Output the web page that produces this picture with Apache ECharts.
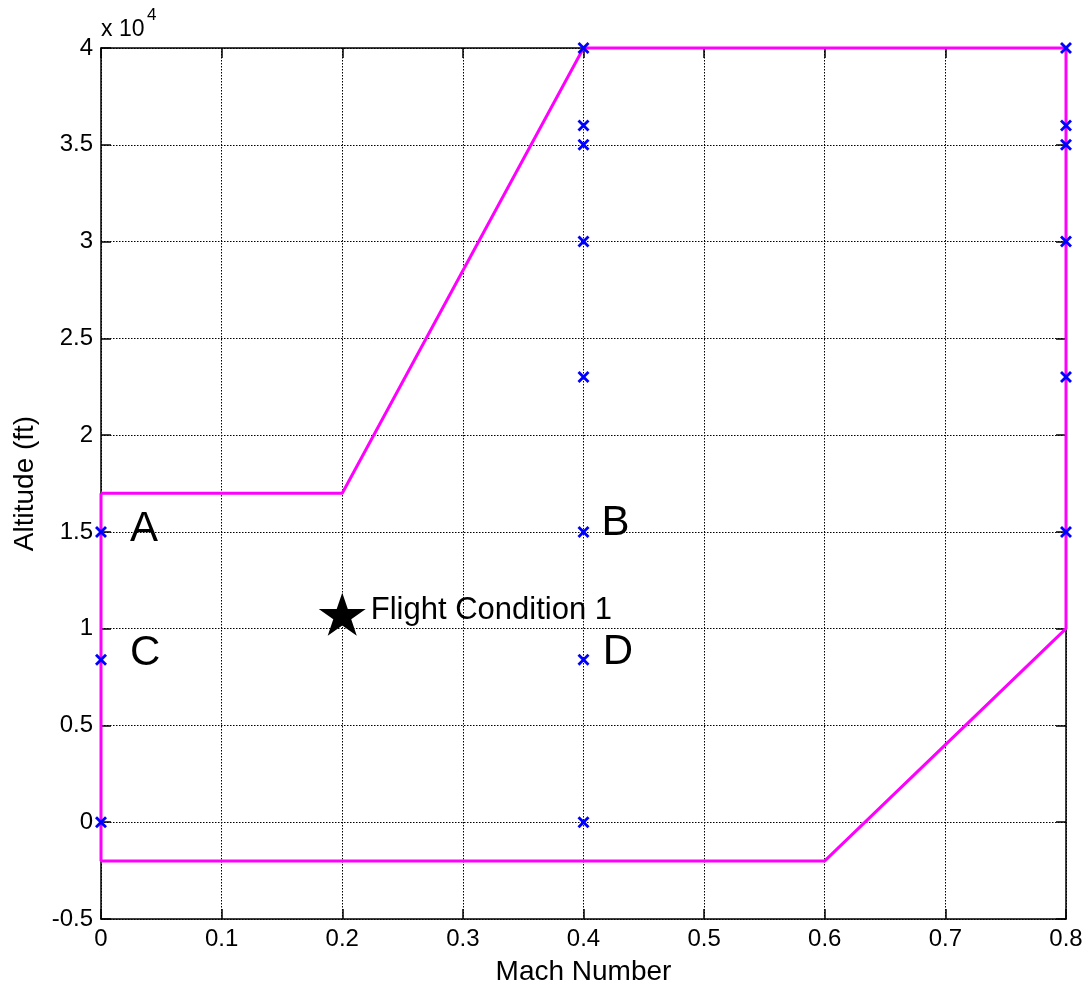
<!DOCTYPE html>
<html>
<head>
<meta charset="utf-8">
<script src="https://cdn.jsdelivr.net/npm/echarts@6/dist/echarts.min.js"></script>
<style>
html,body{margin:0;padding:0;background:#fff;}
#chart{width:1086px;height:991px;}
</style>
</head>
<body>
<div id="chart"></div>
<script>
// Flight envelope boundary (Mach, altitude ft)
const envelopeMach = [0, 0.2, 0.4, 0.8, 0.8, 0.6, 0, 0];
const envelopeAlt = [17000, 17000, 40000, 40000, 10000, -2000, -2000, 17000];

// Operating points (blue x markers)
const pointMach = [0, 0, 0, 0.4, 0.4, 0.4, 0.4, 0.4, 0.4, 0.4, 0.4, 0.8, 0.8, 0.8, 0.8, 0.8, 0.8];
const pointAlt = [0, 8400, 15000, 0, 8400, 15000, 23000, 30000, 35000, 36000, 40000, 15000, 23000, 30000, 35000, 36000, 40000];

// Corner labels
const labelText = ['A', 'B', 'C', 'D'];
const labelMach = [0.024, 0.415, 0.024, 0.416];
const labelAlt = [15150, 15450, 8700, 8750];

// Flight condition star
const flightMach = [0.2];
const flightAlt = [10750];
const flightName = ['Flight Condition 1'];

// Axis settings
const xMin = 0, xMax = 0.8, xStep = 0.1;
const yMin = -5000, yMax = 40000, yStep = 5000;
const yScale = 10000;

const FONT = "'Liberation Sans', Arial, Helvetica, sans-serif";
const XPATH = 'path://M0,2L2,0L6,4L10,0L12,2L8,6L12,10L10,12L6,8L2,12L0,10L4,6Z';
const STAR = 'path://M50,0L61.23,34.55L97.55,34.55L68.16,55.9L79.39,90.45L50,69.1L20.61,90.45L31.84,55.9L2.45,34.55L38.77,34.55Z';

const chart = echarts.init(document.getElementById('chart'), null, {renderer: 'canvas'});

const axisLineStyle = {show: true, onZero: false, lineStyle: {color: '#000', width: 1.5}};
const tickStyle = {show: true, inside: true, length: 10, lineStyle: {color: '#000', width: 1.5}};
const gridStyle = {show: true, lineStyle: {color: '#000', width: 1, type: [1.5, 1.5]}};

const option = {
  animation: false,
  backgroundColor: '#fff',
  grid: {left: 101, right: 20, top: 48, bottom: 67, containLabel: false},
  xAxis: [
    {
      type: 'value', min: xMin, max: xMax, interval: xStep, position: 'bottom',
      name: 'Mach Number', nameLocation: 'middle', nameGap: 39,
      nameTextStyle: {fontFamily: FONT, fontSize: 28, color: '#000'},
      axisLine: axisLineStyle, axisTick: tickStyle, splitLine: gridStyle,
      axisLabel: {fontFamily: FONT, fontSize: 24, color: '#000', margin: 8,
        formatter: v => String(Math.round(v * 10) / 10)}
    },
    {
      type: 'value', min: xMin, max: xMax, interval: xStep, position: 'top',
      axisLine: axisLineStyle, axisTick: tickStyle, splitLine: {show: false},
      axisLabel: {show: false}
    }
  ],
  yAxis: [
    {
      type: 'value', min: yMin, max: yMax, interval: yStep, position: 'left',
      name: 'Altitude (ft)', nameLocation: 'middle', nameGap: 62, nameRotate: 90,
      nameTextStyle: {fontFamily: FONT, fontSize: 28, color: '#000'},
      axisLine: axisLineStyle, axisTick: tickStyle, splitLine: gridStyle,
      axisLabel: {fontFamily: FONT, fontSize: 24, color: '#000', margin: 8,
        formatter: v => String(Math.round(v / yScale * 10) / 10)}
    },
    {
      type: 'value', min: yMin, max: yMax, interval: yStep, position: 'right',
      axisLine: axisLineStyle, axisTick: tickStyle, splitLine: {show: false},
      axisLabel: {show: false}
    }
  ],
  graphic: [
    {type: 'text', left: 101, top: 18, z: 100,
      style: {text: 'x 10', fontFamily: FONT, fontSize: 23, fill: '#000'}},
    {type: 'text', left: 147, top: 7, z: 100,
      style: {text: '4', fontFamily: FONT, fontSize: 17, fill: '#000'}}
  ],
  series: [
    {
      type: 'line', name: 'envelope', xAxisIndex: 0, yAxisIndex: 0,
      data: envelopeMach.map((m, i) => [m, envelopeAlt[i]]),
      showSymbol: false, symbol: 'none',
      lineStyle: {color: '#ff00ff', width: 3}, z: 3, clip: false
    },
    {
      type: 'scatter', name: 'points', xAxisIndex: 0, yAxisIndex: 0,
      data: pointMach.map((m, i) => [m, pointAlt[i]]),
      symbol: XPATH, symbolSize: 12,
      itemStyle: {color: '#0000ff', opacity: 1}, z: 5, clip: false
    },
    {
      type: 'scatter', name: 'labels', xAxisIndex: 0, yAxisIndex: 0,
      data: labelMach.map((m, i) => ({value: [m, labelAlt[i]], name: labelText[i]})),
      symbolSize: 0,
      itemStyle: {opacity: 1},
      label: {show: true, position: 'right', distance: 0, formatter: p => p.name,
        fontFamily: FONT, fontSize: 42, color: '#000', opacity: 1},
      z: 6, silent: true
    },
    {
      type: 'scatter', name: 'flight', xAxisIndex: 0, yAxisIndex: 0,
      data: flightMach.map((m, i) => ({value: [m, flightAlt[i]], name: flightName[i]})),
      symbol: STAR, symbolSize: [47, 43],
      itemStyle: {color: '#000', opacity: 1},
      label: {show: true, position: 'right', distance: 5, offset: [0, -4], formatter: p => p.name,
        fontFamily: FONT, fontSize: 31, color: '#000', opacity: 1},
      z: 7
    }
  ]
};
chart.setOption(option);
</script>
</body>
</html>
